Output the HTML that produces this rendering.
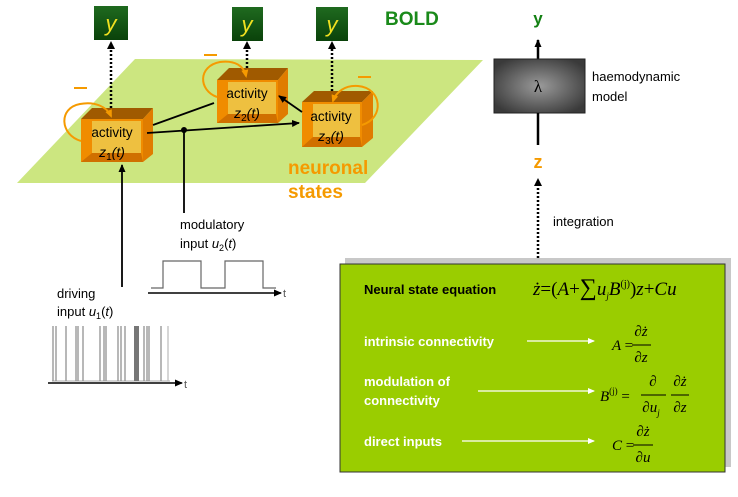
<!DOCTYPE html>
<html><head><meta charset="utf-8"><style>
body{margin:0;background:#fff}
svg{display:block}
text{font-family:"Liberation Sans",sans-serif}
.s text, text.s, tspan.s{font-family:"Liberation Serif",serif;font-style:italic}
.i{font-style:italic}
</style></head><body>
<svg width="738" height="497" viewBox="0 0 738 497" xmlns="http://www.w3.org/2000/svg">
<defs>
<marker id="ah" markerWidth="8" markerHeight="8" refX="7" refY="4" orient="auto" markerUnits="userSpaceOnUse"><path d="M0,0.5 L8,4 L0,7.5z" fill="#000"/></marker>
<marker id="ahw" markerWidth="7" markerHeight="6" refX="6" refY="3" orient="auto" markerUnits="userSpaceOnUse"><path d="M0,0 L7,3 L0,6z" fill="#fff"/></marker>
<marker id="aho" markerWidth="8" markerHeight="8" refX="6" refY="4" orient="auto" markerUnits="userSpaceOnUse"><path d="M0,0.5 L8,4 L0,7.5z" fill="#f59a00"/></marker>
<linearGradient id="gy" x1="0" y1="0" x2="0" y2="1"><stop offset="0" stop-color="#1f6a1f"/><stop offset="1" stop-color="#0a420a"/></linearGradient>
<radialGradient id="gb" cx="0.5" cy="0.5" r="0.6"><stop offset="0" stop-color="#9a9a9a"/><stop offset="1" stop-color="#3a3a3a"/></radialGradient>
</defs>
<polygon points="135,59 483,60 365,183 17,183" fill="#cce680"/>
<g stroke="#000" stroke-width="2.5" stroke-dasharray="2,2">
<line x1="111" y1="108" x2="111" y2="48"/>
<line x1="247" y1="68" x2="247" y2="48"/>
<line x1="332" y1="91" x2="332" y2="48"/>
<line x1="538" y1="258" x2="538" y2="186"/>
</g>
<g fill="#000"><path d="M107,49 L111,41 L115,49z"/><path d="M243,49 L247,41 L251,49z"/><path d="M328,49 L332,41 L336,49z"/><path d="M534,186 L538,178 L542,186z"/></g>
<rect x="94" y="6" width="34" height="34" fill="url(#gy)"/>
<rect x="232" y="7" width="31" height="34" fill="url(#gy)"/>
<rect x="316" y="7" width="32" height="34" fill="url(#gy)"/>
<g fill="#f0e020" font-size="22" text-anchor="middle" font-style="italic"><text x="111" y="31">y</text><text x="247" y="32">y</text><text x="332" y="32">y</text></g>
<text x="385" y="25" font-size="19" font-weight="bold" fill="#1a8a1a">BOLD</text>
<polygon points="81,119 92,108 153,108 143,119" fill="#a05a00"/>
<polygon points="143,119 153,108 153,154 143,162" fill="#e07c00"/>
<rect x="81" y="119" width="62" height="43" fill="#f08c00"/>
<rect x="92" y="121" width="49" height="32" fill="#eec040"/>
<polygon points="92,153 141,153 143,162 81,162" fill="#d07000"/>
<polygon points="217,80 229,68 288,68 278,80" fill="#a05a00"/>
<polygon points="278,80 288,68 288,114 278,123" fill="#e07c00"/>
<rect x="217" y="80" width="61" height="43" fill="#f08c00"/>
<rect x="228" y="82" width="48" height="32" fill="#eec040"/>
<polygon points="228,114 276,114 278,123 217,123" fill="#d07000"/>
<polygon points="302,102 314,91 373,91 362,102" fill="#a05a00"/>
<polygon points="362,102 373,91 373,138 362,147" fill="#e07c00"/>
<rect x="302" y="102" width="60" height="45" fill="#f08c00"/>
<rect x="313" y="104" width="47" height="33" fill="#eec040"/>
<polygon points="313,137 360,137 362,147 302,147" fill="#d07000"/>
<g font-size="13.5" text-anchor="middle" fill="#000">
<text x="112" y="137">activity</text><text x="247" y="98">activity</text><text x="331" y="121">activity</text>
</g>
<g font-size="14" text-anchor="middle" font-style="italic">
<text x="112" y="157">z<tspan font-size="10" dy="3" font-style="normal">1</tspan><tspan dy="-3">(t)</tspan></text>
<text x="247" y="118">z<tspan font-size="10" dy="3" font-style="normal">2</tspan><tspan dy="-3">(t)</tspan></text>
<text x="331" y="141">z<tspan font-size="10" dy="3" font-style="normal">3</tspan><tspan dy="-3">(t)</tspan></text>
</g>
<g fill="none" stroke="#f59a00" stroke-width="2">
<path d="M81,141 C60,135 58,108 80,104 C95,101 107,107 111,116" marker-end="url(#aho)"/>
<path d="M217,97 C198,90 198,66 220,62 C235,60 244,66 246,76" marker-end="url(#aho)"/>
<path d="M362,125 C385,118 382,88 358,86 C345,85 336,92 333,101" marker-end="url(#aho)"/>
</g>
<g fill="#f59a00"><rect x="74" y="87" width="13" height="2"/><rect x="204" y="54" width="13" height="2"/><rect x="358" y="76" width="13" height="2"/></g>
<g stroke="#000" stroke-width="1.8" fill="none">
<line x1="153" y1="125" x2="214" y2="103"/>
<line x1="147" y1="133" x2="299" y2="123" marker-end="url(#ah)"/>
<line x1="302" y1="112" x2="279" y2="96" marker-end="url(#ah)"/>
<line x1="184" y1="130" x2="184" y2="213"/>
<line x1="122" y1="287" x2="122" y2="165" marker-end="url(#ah)"/>
</g>
<circle cx="184" cy="130" r="3" fill="#000"/>
<g font-size="19" font-weight="bold" fill="#f59a00"><text x="288" y="174">neuronal</text><text x="288" y="198">states</text></g>
<g font-size="13" fill="#000"><text x="180" y="229">modulatory</text><text x="180" y="248">input <tspan class="i">u</tspan><tspan font-size="9" dy="3">2</tspan><tspan dy="-3">(</tspan><tspan class="i">t</tspan>)</text>
<text x="57" y="298">driving</text><text x="57" y="316">input <tspan class="i">u</tspan><tspan font-size="9" dy="3">1</tspan><tspan dy="-3">(</tspan><tspan class="i">t</tspan>)</text></g>
<polyline points="151,288 163,288 163,261 201,261 201,288 225,288 225,261 263,261 263,288 276,288" fill="none" stroke="#666" stroke-width="1.2"/>
<line x1="148" y1="293" x2="281" y2="293" stroke="#000" stroke-width="1.5" marker-end="url(#ah)"/>
<text x="283" y="297" font-size="11" fill="#555">t</text>
<g stroke="#888" stroke-width="1.2">
<line x1="52" y1="381" x2="170" y2="381" stroke="#bbb"/>
<line x1="53" y1="326" x2="53" y2="381"/><line x1="56" y1="326" x2="56" y2="381"/><line x1="66" y1="326" x2="66" y2="381"/><line x1="76" y1="326" x2="76" y2="381"/><line x1="78" y1="326" x2="78" y2="381"/><line x1="83" y1="326" x2="83" y2="381"/><line x1="100" y1="326" x2="100" y2="381"/><line x1="104" y1="326" x2="104" y2="381"/><line x1="106" y1="326" x2="106" y2="381"/><line x1="118" y1="326" x2="118" y2="381"/><line x1="121" y1="326" x2="121" y2="381"/><line x1="125" y1="326" x2="125" y2="381"/><line x1="144" y1="326" x2="144" y2="381"/><line x1="147" y1="326" x2="147" y2="381"/><line x1="149" y1="326" x2="149" y2="381"/><line x1="161" y1="326" x2="161" y2="381"/><line x1="168" y1="326" x2="168" y2="381" stroke="#bbb"/>
</g>
<rect x="134" y="326" width="5" height="55" fill="#777"/>
<line x1="48" y1="383" x2="182" y2="383" stroke="#000" stroke-width="1.5" marker-end="url(#ah)"/>
<text x="184" y="388" font-size="11" fill="#555">t</text>
<line x1="538" y1="59" x2="538" y2="40" stroke="#000" stroke-width="2.5" marker-end="url(#ah)"/>
<text x="538" y="24" font-size="17" font-weight="bold" fill="#138013" text-anchor="middle">y</text>
<rect x="494" y="59" width="91" height="54" fill="url(#gb)" stroke="#222"/>
<text x="538" y="92" font-size="17" text-anchor="middle" style="font-family:'Liberation Serif',serif">λ</text>
<g font-size="13" fill="#000"><text x="592" y="81">haemodynamic</text><text x="592" y="101">model</text><text x="553" y="226">integration</text></g>
<line x1="538" y1="113" x2="538" y2="145" stroke="#000" stroke-width="2.5"/>
<text x="538" y="168" font-size="18" font-weight="bold" fill="#f59a00" text-anchor="middle">z</text>
<rect x="345" y="258" width="386" height="209" fill="#c8c8c8"/>
<rect x="340" y="264" width="385" height="208" fill="#9acd00" stroke="#333" stroke-width="1"/>
<text x="364" y="294" font-size="13" font-weight="bold" fill="#000">Neural state equation</text>
<text x="533" y="295" class="s" font-size="19">ż<tspan style="font-style:normal">=(</tspan>A<tspan style="font-style:normal">+</tspan><tspan style="font-style:normal" font-size="24">∑</tspan>u<tspan font-size="9" dy="4">j</tspan><tspan dy="-4">B</tspan><tspan font-size="10" dy="-8" style="font-style:normal">(j)</tspan><tspan dy="8" style="font-style:normal">)</tspan>z<tspan style="font-style:normal">+</tspan>Cu</text>
<g font-size="13" font-weight="bold" fill="#fff"><text x="364" y="346">intrinsic connectivity</text><text x="364" y="386">modulation of</text><text x="364" y="405">connectivity</text><text x="364" y="446">direct inputs</text></g>
<g stroke="#fff" stroke-width="1.2"><line x1="527" y1="341" x2="594" y2="341" marker-end="url(#ahw)"/><line x1="478" y1="391" x2="594" y2="391" marker-end="url(#ahw)"/><line x1="462" y1="441" x2="594" y2="441" marker-end="url(#ahw)"/></g>
<g class="s" font-size="15" fill="#000">
<text x="612" y="350">A <tspan style="font-style:normal">=</tspan></text>
<text x="641" y="336" text-anchor="middle">∂ż</text><line x1="632" y1="345" x2="651" y2="345" stroke="#000"/><text x="641" y="362" text-anchor="middle">∂z</text>
<text x="600" y="401">B<tspan font-size="9" dy="-7" style="font-style:normal">(j)</tspan><tspan dy="7" style="font-style:normal"> =</tspan></text>
<text x="653" y="386" text-anchor="middle">∂</text><line x1="641" y1="395" x2="666" y2="395" stroke="#000"/><text x="651" y="412" text-anchor="middle">∂u<tspan font-size="9" dy="4">j</tspan></text>
<text x="680" y="386" text-anchor="middle">∂ż</text><line x1="671" y1="395" x2="689" y2="395" stroke="#000"/><text x="680" y="412" text-anchor="middle">∂z</text>
<text x="612" y="450">C <tspan style="font-style:normal">=</tspan></text>
<text x="643" y="436" text-anchor="middle">∂ż</text><line x1="633" y1="445" x2="653" y2="445" stroke="#000"/><text x="643" y="462" text-anchor="middle">∂u</text>
</g>
</svg>
</body></html>
